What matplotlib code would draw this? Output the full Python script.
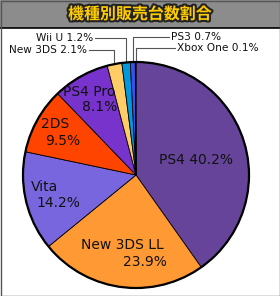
import numpy as np
import matplotlib.pyplot as plt
import matplotlib.patheffects as pe
from matplotlib.patches import Rectangle, Circle

plt.switch_backend('agg')

# data, clockwise from 12 o'clock
names = ['PS4', 'New 3DS LL', 'Vita', '2DS', 'PS4 Pro', 'New 3DS', 'Wii U', 'PS3', 'Xbox One']
shares = [40.2, 23.9, 14.2, 9.5, 8.1, 2.1, 1.2, 0.7, 0.1]
colors = ['#664499', '#ff9933', '#7766dd', '#ff4400', '#7733cc',
          '#ffcc66', '#0099dd', '#3355ee', '#006633']
title = '機種別販売台数割合'

W, H = 280, 296
cx, cy, R = 136, 175, 113


def py(y):
    # pixel row -> data y
    return H - y


fig = plt.figure(figsize=(W / 100, H / 100), dpi=100)
ax = fig.add_axes([0, 0, 1, 1])

wedges, _ = ax.pie(shares, colors=colors, startangle=90, counterclock=False,
                   center=(cx, py(cy)), radius=R,
                   wedgeprops=dict(edgecolor='black', linewidth=0.6))
ax.add_patch(Circle((cx, py(cy)), R, fill=False, ec='black', lw=1.6, zorder=3))

# inside labels (name line, pct line)
inside = {
    'PS4': [(196, 160, 'PS4 40.2%')],
    'New 3DS LL': [(122, 245, 'New 3DS LL'), (145, 262, '23.9%')],
    'Vita': [(45, 187, 'Vita'), (58, 203, '14.2%')],
    '2DS': [(55, 124, '2DS'), (63, 141, '9.5%')],
    'PS4 Pro': [(89, 92, 'PS4 Pro'), (100, 107, '8.1%')],
}
for k, lines in inside.items():
    for x, y, s in lines:
        ax.text(x, py(y), s, fontsize=10, ha='center', va='center', color='#111111', zorder=4)

# outside labels with elbow leaders
cum = np.cumsum([0] + shares)
mids = 90 - (cum[:-1] + np.array(shares) / 2) * 3.6
outside = {
    'New 3DS': (87, 50, 'right'),
    'Wii U': (93, 38, 'right'),
    'PS3': (171, 37, 'left'),
    'Xbox One': (177, 48, 'left'),
}
for k, (tx, ty, side) in outside.items():
    i = names.index(k)
    a = np.deg2rad(mids[i])
    ex = cx + R * np.cos(a)
    ey = cy - R * np.sin(a)
    lx = tx + 2 if side == 'right' else tx - 2
    ax.plot([ex, ex, lx], [py(ey), py(ty), py(ty)], color='#555555', lw=0.8, zorder=2)
    ax.text(tx, py(ty), f'{k} {shares[i]}%', fontsize=7.6, ha=side, va='center',
            color='#111111', zorder=4)

# header band
ax.add_patch(Rectangle((0, py(28)), W, 28, facecolor='#d4d4d4', edgecolor='#8c8c8c',
                       hatch='/' * 22, lw=0, zorder=5))
ax.plot([0, W], [py(28), py(28)], color='black', lw=1.2, zorder=6)
ax.text(W / 2, py(14), title, fontsize=11.5, fontweight='bold', color='#ffcc00',
        family=['Noto Sans CJK JP', 'DejaVu Sans'], ha='center', va='center', zorder=7,
        path_effects=[pe.withStroke(linewidth=3, foreground='#222222')])

ax.add_patch(Rectangle((0.5, 0.5), W - 1, H - 1, fill=False, ec='#555555', lw=1, zorder=8))

ax.set_xlim(0, W)
ax.set_ylim(0, H)
ax.set_aspect('auto')
ax.axis('off')

plt.savefig('out.png', dpi=100)
